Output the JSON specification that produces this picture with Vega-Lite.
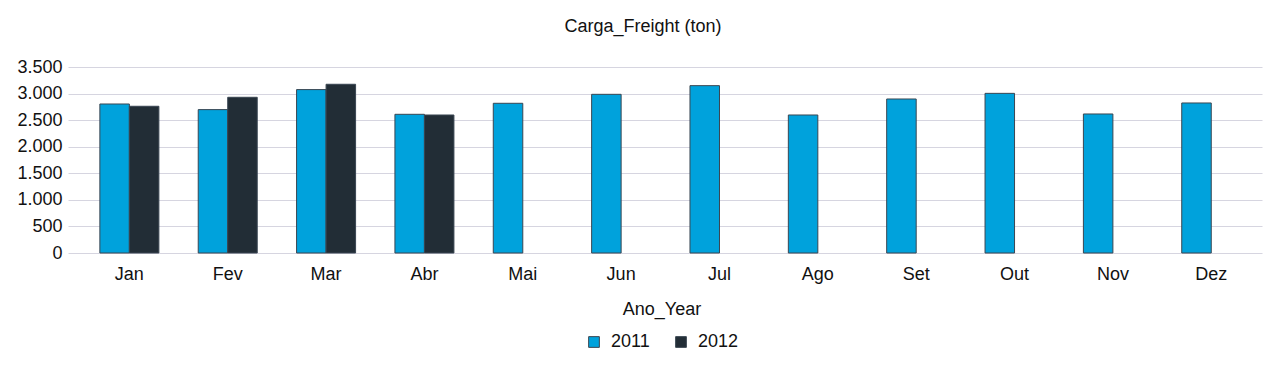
{
  "$schema": "https://vega.github.io/schema/vega-lite/v6.json",
  "width": 1194,
  "height": 186,
  "autosize": {"type": "none"},
  "padding": {"left": 68, "top": 67, "right": 19, "bottom": 118},
  "title": {"text": "Carga_Freight (ton)", "fontSize": 18, "font": "Liberation Sans", "fontWeight": "normal", "color": "#111111", "offset": 22, "anchor": "middle", "dx": -22},
  "data": {"values": [
    {"mes": "Jan", "ano": "2011", "carga": 2804},
    {"mes": "Jan", "ano": "2012", "carga": 2761},
    {"mes": "Fev", "ano": "2011", "carga": 2698},
    {"mes": "Fev", "ano": "2012", "carga": 2930},
    {"mes": "Mar", "ano": "2011", "carga": 3075},
    {"mes": "Mar", "ano": "2012", "carga": 3175},
    {"mes": "Abr", "ano": "2011", "carga": 2610},
    {"mes": "Abr", "ano": "2012", "carga": 2597},
    {"mes": "Mai", "ano": "2011", "carga": 2817},
    {"mes": "Jun", "ano": "2011", "carga": 2986},
    {"mes": "Jul", "ano": "2011", "carga": 3149},
    {"mes": "Ago", "ano": "2011", "carga": 2597},
    {"mes": "Set", "ano": "2011", "carga": 2898},
    {"mes": "Out", "ano": "2011", "carga": 3004},
    {"mes": "Nov", "ano": "2011", "carga": 2616},
    {"mes": "Dez", "ano": "2011", "carga": 2823}
  ]},
  "mark": {"type": "bar", "stroke": "#3a4652", "strokeWidth": 1},
  "encoding": {
    "x": {"field": "mes", "type": "nominal", "sort": ["Jan","Fev","Mar","Abr","Mai","Jun","Jul","Ago","Set","Out","Nov","Dez"],
      "scale": {"paddingInner": 0.4, "paddingOuter": 0.27, "align": 0.6},
      "axis": {"title": null, "labelAngle": 0, "labelFontSize": 18, "labelFont": "Liberation Sans", "labelColor": "#111111", "ticks": false, "domain": false, "labelPadding": 12}},
    "xOffset": {"field": "ano", "type": "nominal"},
    "y": {"field": "carga", "type": "quantitative",
      "scale": {"domain": [0, 3500]},
      "axis": {"title": null, "values": [0,500,1000,1500,2000,2500,3000,3500], "format": ",.0f", "labelFontSize": 18, "labelFont": "Liberation Sans", "labelColor": "#111111", "ticks": false, "domain": false, "gridColor": "#d6d5e0", "gridWidth": 1, "labelPadding": 6}},
    "color": {"field": "ano", "type": "nominal", "title": "Ano_Year",
      "scale": {"domain": ["2011","2012"], "range": ["#00a2dc","#222d36"]},
      "legend": {"orient": "none", "legendX": 517, "legendY": 234, "direction": "horizontal", "titleOrient": "top", "titleAnchor": "middle", "titleFontSize": 18, "titleFont": "Liberation Sans", "titleFontWeight": "normal", "titleColor": "#111111", "labelFontSize": 18, "labelFont": "Liberation Sans", "labelColor": "#111111", "symbolType": "square", "symbolSize": 115, "symbolStrokeColor": "#3a4652", "symbolStrokeWidth": 1, "titlePadding": 14, "columnPadding": 22, "labelOffset": 8}}
  },
  "config": {
    "view": {"stroke": null},
    "locale": {"number": {"decimal": ",", "thousands": ".", "grouping": [3], "currency": ["R$", ""]}}
  }
}
